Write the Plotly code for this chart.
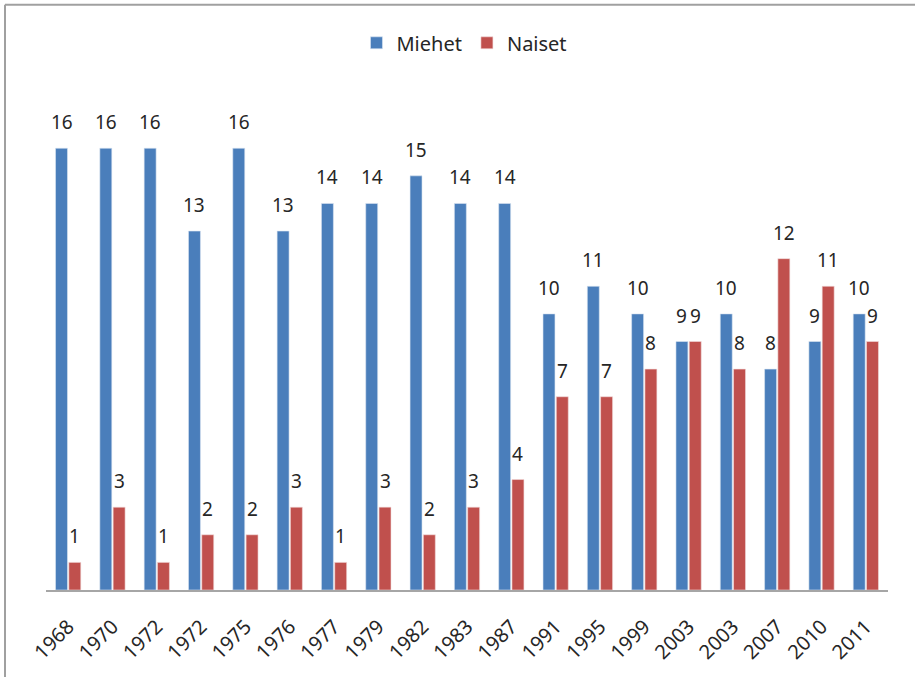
import plotly.graph_objects as go

years = ["1968", "1970", "1972", "1972", "1975", "1976", "1977", "1979", "1982", "1983",
         "1987", "1991", "1995", "1999", "2003", "2003", "2007", "2010", "2011"]
miehet = [16, 16, 16, 13, 16, 13, 14, 14, 15, 14, 14, 10, 11, 10, 9, 10, 8, 9, 10]
naiset = [1, 3, 1, 2, 2, 3, 1, 3, 2, 3, 4, 7, 7, 8, 9, 8, 12, 11, 9]

idx = list(range(len(years)))
blue = "#4A7EBB"
red = "#C0504D"
font = "Noto Sans"
txt = "#262626"

fig = go.Figure()
fig.add_trace(go.Bar(x=idx, y=miehet, name="Miehet", marker=dict(color=blue, line=dict(color="#DCE6F2", width=0.6))))
fig.add_trace(go.Bar(x=idx, y=naiset, name="Naiset", marker=dict(color=red, line=dict(color="#F2DCDB", width=0.6))))

ann = []
for i, (m, n) in enumerate(zip(miehet, naiset)):
    ann.append(dict(x=i - 0.15, y=m, text=str(m), xref="x", yref="y", showarrow=False,
                    yanchor="bottom", yshift=11, font=dict(family=font, size=19, color=txt)))
    ann.append(dict(x=i + 0.15, y=n, text=str(n), xref="x", yref="y", showarrow=False,
                    yanchor="bottom", yshift=11, font=dict(family=font, size=19, color=txt)))

top_line = (592.7 - 4) / 500
left_line = -41 / 842

fig.update_layout(
    width=915, height=677,
    margin=dict(l=46, r=27, t=93, b=84),
    paper_bgcolor="white", plot_bgcolor="white",
    barmode="group", bargap=0.4, bargroupgap=0.1,
    font=dict(family=font, size=19, color=txt),
    legend=dict(orientation="h", x=0.497, xanchor="center", y=1.101, yanchor="middle",
                font=dict(family=font, size=20, color=txt), itemwidth=30),
    annotations=ann,
    xaxis=dict(tickmode="array", tickvals=idx, ticktext=years, tickangle=-45,
               range=[-0.5, len(years) - 0.5], showline=True, linecolor="#A6A6A6", linewidth=2,
               showgrid=False, zeroline=False, ticks="", ticklabelstandoff=15,
               tickfont=dict(family=font, size=20, color=txt)),
    yaxis=dict(range=[0, 18], visible=False, showgrid=False, zeroline=False),
    shapes=[
        dict(type="line", xref="paper", yref="paper", x0=left_line, x1=1.1, y0=top_line, y1=top_line,
             line=dict(color="#A0A0A0", width=2)),
        dict(type="line", xref="paper", yref="paper", x0=left_line, x1=left_line, y0=top_line, y1=-0.2,
             line=dict(color="#A0A0A0", width=2)),
    ],
)

fig.write_html("out.html", config={"displayModeBar": False},
               post_script="document.body.style.margin='0';")
